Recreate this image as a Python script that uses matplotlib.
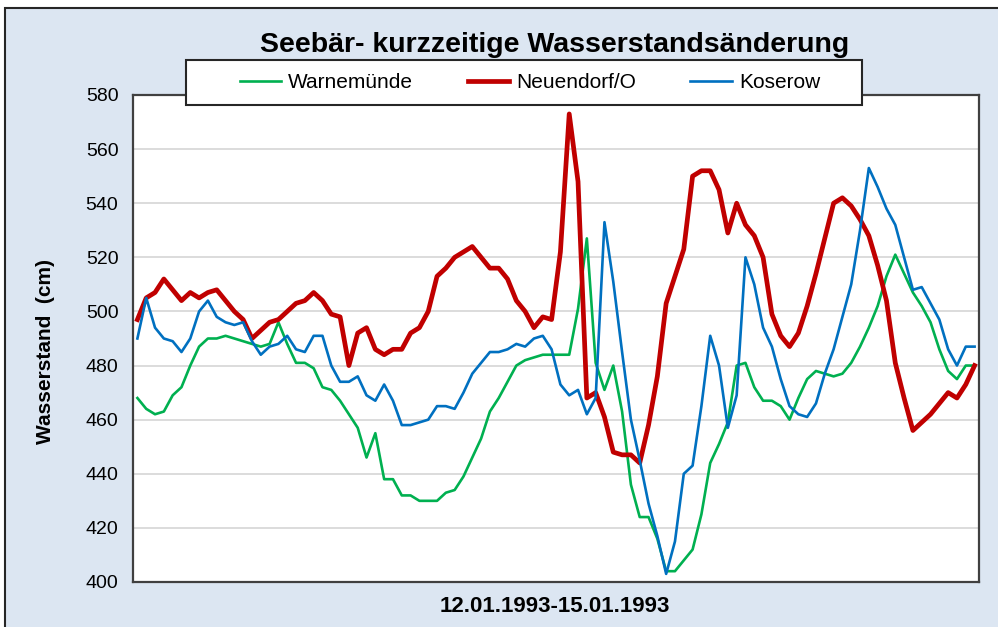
import matplotlib
matplotlib.use("Agg")
import matplotlib.pyplot as plt
from matplotlib.patches import Rectangle
from matplotlib.lines import Line2D
import numpy as np

# Stundenwerte 12.01.1993 - 15.01.1993 (cm)
warnemuende = [468, 464, 462, 463, 469, 472, 480, 487, 490, 490, 491, 490, 489, 488, 487, 488,
               496, 488, 481, 481, 479, 472, 471, 467, 462, 457, 446, 455, 438, 438, 432, 432,
               430, 430, 430, 433, 434, 439, 446, 453, 463, 468, 474, 480, 482, 483, 484, 484,
               484, 484, 501, 527, 481, 471, 480, 463, 436, 424, 424, 416, 404, 404, 408, 412,
               425, 444, 451, 459, 480, 481, 472, 467, 467, 465, 460, 468, 475, 478, 477, 476,
               477, 481, 487, 494, 502, 513, 521, 514, 507, 502, 496, 486, 478, 475, 480, 480]
neuendorf = [497, 505, 507, 512, 508, 504, 507, 505, 507, 508, 504, 500, 497, 490, 493, 496,
             497, 500, 503, 504, 507, 504, 499, 498, 480, 492, 494, 486, 484, 486, 486, 492,
             494, 500, 513, 516, 520, 522, 524, 520, 516, 516, 512, 504, 500, 494, 498, 497,
             522, 573, 548, 468, 470, 461, 448, 447, 447, 444, 458, 476, 503, 513, 523, 550,
             552, 552, 545, 529, 540, 532, 528, 520, 499, 491, 487, 492, 502, 514, 527, 540,
             542, 539, 534, 528, 517, 504, 481, 468, 456, 459, 462, 466, 470, 468, 473, 480]
koserow = [490, 505, 494, 490, 489, 485, 490, 500, 504, 498, 496, 495, 496, 489, 484, 487,
           488, 491, 486, 485, 491, 491, 480, 474, 474, 476, 469, 467, 473, 467, 458, 458,
           459, 460, 465, 465, 464, 470, 477, 481, 485, 485, 486, 488, 487, 490, 491, 486,
           473, 469, 471, 462, 468, 533, 511, 485, 460, 445, 429, 417, 403, 415, 440, 443,
           465, 491, 480, 457, 469, 520, 510, 494, 487, 475, 465, 462, 461, 466, 477, 486,
           498, 510, 530, 553, 546, 538, 532, 520, 508, 509, 503, 497, 486, 480, 487, 487]

series_names = ["Warnemünde", "Neuendorf/O", "Koserow"]
series_colors = ["#00B050", "#C00000", "#0070C0"]
series_widths = [1.9, 3.4, 1.9]
y_ticks = [400, 420, 440, 460, 480, 500, 520, 540, 560, 580]

title = "Seebär- kurzzeitige Wasserstandsänderung"
x_label = "12.01.1993-15.01.1993"
y_label = "Wasserstand  (cm)"

plt.rcParams['font.family'] = ['Liberation Sans', 'DejaVu Sans']

W, H = 998, 627
fig = plt.figure(figsize=(W / 100, H / 100), dpi=100, facecolor='white')

# hellblauer Diagrammbereich mit Rahmen
fig.patches.append(Rectangle((5 / W, -0.05), 1.0, 1.05 - 8 / H, transform=fig.transFigure,
                             facecolor='#DCE6F2', edgecolor='#262626', lw=1.5, zorder=-1))

ax = fig.add_axes([133 / W, 1 - 582 / H, 846 / W, 487 / H])
x = np.arange(len(warnemuende))
handles = []
for vals, name, col, lw in zip([warnemuende, neuendorf, koserow], series_names, series_colors, series_widths):
    ax.plot(x, vals, color=col, lw=lw, solid_joinstyle='round')
    handles.append(Line2D([], [], color=col, lw=lw))

ax.set_xlim(-0.5, len(x) - 0.5)
ax.set_ylim(400, 580)
ax.set_yticks(y_ticks)
ax.set_xticks([])
ax.grid(axis='y', color='#D9D9D9', lw=1.3)
ax.set_axisbelow(True)
ax.tick_params(axis='y', length=0, pad=10.5, labelsize=14)
for s in ax.spines.values():
    s.set_color('#404040')
    s.set_linewidth(1.6)

fig.text(555 / W, 1 - 45 / H, title, ha='center', va='center', fontsize=20.5, fontweight='bold')
fig.text(555 / W, 1 - 606 / H, x_label, ha='center', va='center', fontsize=16, fontweight='bold')
fig.text(46 / W, 1 - 352 / H, y_label, ha='center', va='center', rotation=90,
         fontsize=15, fontweight='bold')

# Legendenkasten
fig.patches.append(Rectangle((186 / W, 1 - 105 / H), 676 / W, 45 / H, transform=fig.transFigure,
                             facecolor='white', edgecolor='#262626', lw=1.5, zorder=3))
fig.legend(handles, series_names, loc='center', bbox_to_anchor=(530 / W, 1 - 83 / H),
           ncol=3, frameon=False, fontsize=15, handlelength=2.0, handletextpad=0.34,
           columnspacing=2.6)

fig.savefig("out.png", dpi=100, facecolor=fig.get_facecolor())
